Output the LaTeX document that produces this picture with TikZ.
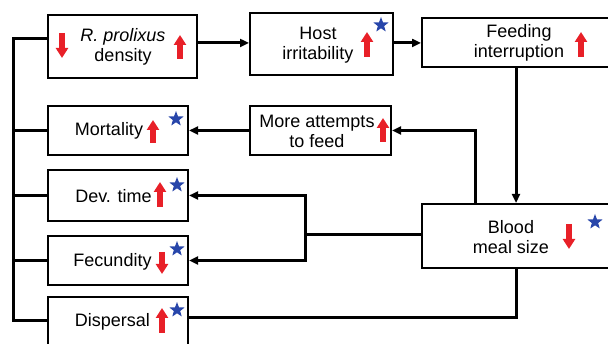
\documentclass[tikz,border=0pt]{standalone}
\usepackage{fontspec}
\setmainfont{Liberation Sans}
\usetikzlibrary{arrows.meta,shapes.geometric}
\definecolor{upred}{RGB}{232,32,40}
\definecolor{starblue}{RGB}{40,70,170}
\tikzset{
  box/.style={draw, rectangle, line width=2pt, inner sep=0pt},
  lbl/.style={font=\fontsize{18}{20}\selectfont, align=center, inner sep=0pt},
  link/.style={line width=3pt, -{Triangle[length=9pt,width=8pt]}},
  bus/.style={line width=3pt},
  redarr/.style={draw=upred, line width=5.5pt, -{Triangle[length=10pt,width=12pt]}},
  bstar/.style={star, star points=5, star point ratio=2.4, fill=starblue, inner sep=0pt, minimum size=16pt}
}
\begin{document}
\begin{tikzpicture}[x=1pt,y=-1pt]
\useasboundingbox (0,0) rectangle (608,344);
% boxes
\node [box, minimum width=149pt, minimum height=63pt] (dens) at (122.5,46.5) {};
\node [box, minimum width=143pt, minimum height=62pt] (host) at (321.5,44) {};
\node [box, minimum width=208pt, minimum height=49pt] (feed) at (526,42.5) {};
\node [box, minimum width=140pt, minimum height=49pt] (mort) at (118,130.5) {};
\node [box, minimum width=141pt, minimum height=49pt] (more) at (320.5,130.5) {};
\node [box, minimum width=140pt, minimum height=51pt] (dev) at (118,195.5) {};
\node [box, minimum width=140pt, minimum height=49pt] (fec) at (118,260.5) {};
\node [box, minimum width=140pt, minimum height=53pt] (disp) at (118,323.5) {};
\node [box, minimum width=208pt, minimum height=64pt] (blood) at (526,236) {};
% texts
\node [lbl] (densT) at (123,47) {\textit{R. prolixus}\\density};
\node [lbl] (hostT) at (318,45) {Host\\irritability};
\node [lbl] (feedT) at (519,43) {Feeding\\interruption};
\node [lbl] (mortT) at (109,131) {Mortality};
\node [lbl] (moreT) at (317,131) {More attempts\\to feed};
\node [lbl] (devT) at (113.5,196) {Dev. time};
\node [lbl] (fecT) at (112.5,262) {Fecundity};
\node [lbl] (dispT) at (112.5,322) {Dispersal};
\node [lbl] (bloodT) at (511,237) {Blood\\meal size};
% red arrows
\draw [redarr] (62,33) -- (62,58);
\draw [redarr] (180,59) -- (180,35);
\draw [redarr] (367,57) -- (367,32);
\draw [redarr] (581,57) -- (581,32);
\draw [redarr] (153,143) -- (153,120);
\draw [redarr] (383,142) -- (383,118);
\draw [redarr] (160,207) -- (160,182);
\draw [redarr] (162,252) -- (162,274);
\draw [redarr] (162,333) -- (162,308);
\draw [redarr] (569,224) -- (569,249);
% stars
\node [bstar] (s1) at (381,25) {};
\node [bstar] (s2) at (176,119) {};
\node [bstar] (s3) at (177,185) {};
\node [bstar] (s4) at (177,249) {};
\node [bstar] (s5) at (177,310) {};
\node [bstar] (s6) at (595,222) {};
% connectors
\coordinate (top) at (13,39);
\coordinate (bot) at (13,321);
\coordinate (row1) at (0,43);
\coordinate (dropx) at (516,0);
\coordinate (upx) at (475,0);
\coordinate (fork) at (305,235);
\coordinate (row9) at (0,318);
\draw [bus] (dens.west |- top) -- (top) -- (bot) -- (disp.west |- bot);
\draw [bus] (mort.west) -- (mort.west -| top);
\draw [bus] (dev.west) -- (dev.west -| top);
\draw [bus] (fec.west) -- (fec.west -| top);
\draw [link] (dens.east |- row1) -- (host.west |- row1);
\draw [link] (host.east |- row1) -- (feed.west |- row1);
\draw [link] (feed.south -| dropx) -- (blood.north -| dropx);
\draw [link] (blood.north -| upx) |- (more.east);
\draw [link] (more.west) -- (mort.east);
\draw [bus] (blood.west |- fork) -- (fork);
\draw [link] (fork) |- (dev.east);
\draw [link] (fork) |- (fec.east);
\draw [bus] (blood.south -| dropx) |- (disp.east |- row9);
\end{tikzpicture}
\end{document}
